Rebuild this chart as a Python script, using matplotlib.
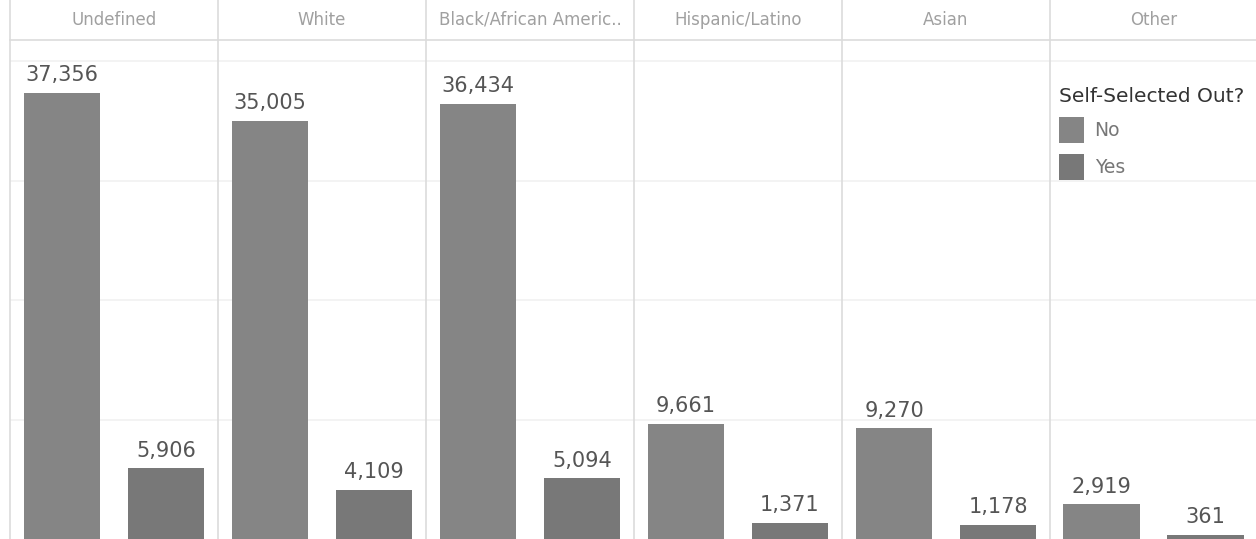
import matplotlib
matplotlib.use("Agg")
import matplotlib.pyplot as plt
from matplotlib.patches import Patch

# Counts by race/ethnicity, split by whether the person self-selected out
categories = ["Undefined", "White", "Black/African Americ..", "Hispanic/Latino", "Asian", "Other"]
count_no = [37356, 35005, 36434, 9661, 9270, 2919]
count_yes = [5906, 4109, 5094, 1371, 1178, 361]
series_labels = ["No", "Yes"]

color_no = "#858585"
color_yes = "#787878"
sep_color = "#dcdcdc"
grid_color = "#f1f1f1"

W, H = 1256, 539
fig = plt.figure(figsize=(W / 100, H / 100), dpi=100)
fig.patch.set_facecolor("white")

left0 = 10
panel_w = 208
header_h = 40
ymax = 41800

for i, cat in enumerate(categories):
    x0 = left0 + panel_w * i
    w = min(panel_w, W - x0)
    ax = fig.add_axes([x0 / W, 0, w / W, (H - header_h) / H])
    ax.bar([0, 1], [count_no[i], count_yes[i]], width=0.74,
           color=[color_no, color_yes], zorder=2)
    for xi, v in zip([0, 1], [count_no[i], count_yes[i]]):
        ax.annotate(f"{v:,}", (xi, v), xytext=(0, 5.5), textcoords="offset points",
                    ha="center", va="bottom", fontsize=15, color="#555555",
                    zorder=3)
    ax.set_xlim(-0.5, 0.5 + (w / panel_w) * 1.0)
    ax.set_ylim(0, ymax)
    ax.set_yticks([10000, 20000, 30000, 40000])
    ax.grid(axis="y", color=grid_color, linewidth=1.2, zorder=0)
    ax.tick_params(left=False, bottom=False, labelleft=False, labelbottom=False)
    for s in ["top", "right", "bottom"]:
        ax.spines[s].set_visible(False)
    ax.spines["left"].set_color(sep_color)
    ax.spines["left"].set_linewidth(1.2)

    hax = fig.add_axes([x0 / W, (H - header_h) / H, w / W, header_h / H])
    hax.set_xlim(0, 1)
    hax.set_ylim(0, 1)
    hax.tick_params(left=False, bottom=False, labelleft=False, labelbottom=False)
    for s in ["top", "right"]:
        hax.spines[s].set_visible(False)
    hax.spines["left"].set_color(sep_color)
    hax.spines["left"].set_linewidth(1.2)
    hax.spines["bottom"].set_color(sep_color)
    hax.spines["bottom"].set_linewidth(1.2)
    hax.text(0.5 * panel_w / w, 0.5, cat, ha="center", va="center",
             fontsize=12, color="#a0a0a0")

handles = [Patch(facecolor=color_no, label=series_labels[0]),
           Patch(facecolor=color_yes, label=series_labels[1])]
leg = fig.legend(handles=handles, title="Self-Selected Out?",
                 loc="upper left", bbox_to_anchor=(1059 / W, 1 - 87 / H),
                 borderaxespad=0, frameon=False, fontsize=13.5, title_fontsize=14.5,
                 handlelength=1.35, handleheight=1.75, handletextpad=0.55,
                 labelspacing=0.6, borderpad=0, alignment="left")
leg.get_title().set_color("#333333")
for t in leg.get_texts():
    t.set_color("#777777")

fig.savefig("out.png", dpi=100, facecolor="white")
